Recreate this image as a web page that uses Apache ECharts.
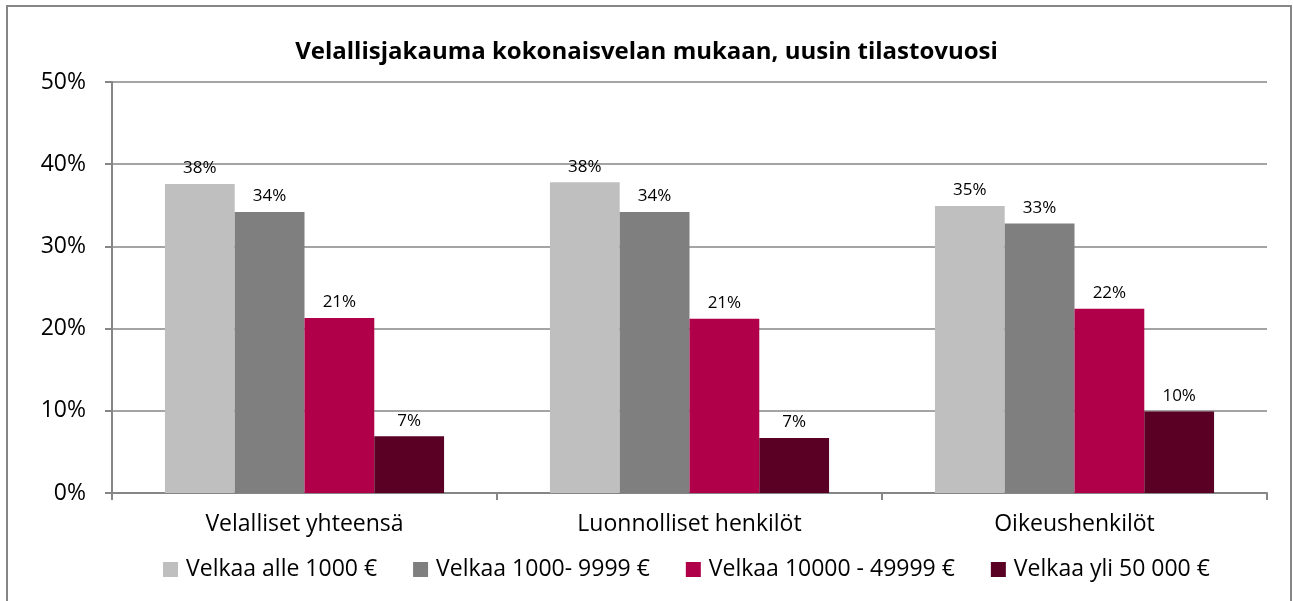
<!DOCTYPE html>
<html>
<head>
<meta charset="utf-8">
<script src="https://cdn.jsdelivr.net/npm/echarts@6/dist/echarts.min.js"></script>
<style>
  html, body { margin: 0; padding: 0; background: #fff; }
  #chart { width: 1293px; height: 601px; }
</style>
</head>
<body>
<div id="chart"></div>
<script>
var categories = ['Velalliset yhteensä', 'Luonnolliset henkilöt', 'Oikeushenkilöt'];
var seriesNames = ['Velkaa alle 1000 €', 'Velkaa 1000- 9999 €', 'Velkaa 10000 - 49999 €', 'Velkaa yli 50 000 €'];
var alle1000 = [37.6, 37.8, 34.9];
var v1000_9999 = [34.2, 34.2, 32.8];
var v10000_49999 = [21.3, 21.2, 22.4];
var yli50000 = [6.9, 6.7, 9.9];
var colors = ['#bfbfbf', '#7f7f7f', '#b0004a', '#5a0025'];

var font = 'Open Sans';
var chart = echarts.init(document.getElementById('chart'));

function makeSeries(name, data) {
  return {
    name: name,
    type: 'bar',
    data: data,
    barGap: '0%',
    barCategoryGap: '27.5%',
    label: {
      show: true,
      position: 'top',
      distance: 7,
      fontFamily: font,
      fontSize: 17,
      color: '#000',
      formatter: function (p) { return Math.round(p.value) + '%'; }
    }
  };
}

var option = {
  color: colors,
  animation: false,
  title: {
    text: 'Velallisjakauma kokonaisvelan mukaan, uusin tilastovuosi',
    left: 'center',
    top: 35,
    textStyle: { fontFamily: font, fontSize: 24, fontWeight: 'bold', color: '#000' }
  },
  legend: {
    top: 553,
    left: 158,
    itemWidth: 15,
    itemHeight: 15,
    itemGap: 36,
    icon: 'rect',
    textStyle: { fontFamily: font, fontSize: 23, color: '#000', padding: [0, 0, 0, 3] },
    data: seriesNames
  },
  grid: { left: 112, right: 26, top: 82, bottom: 108 },
  xAxis: {
    type: 'category',
    data: categories,
    axisLine: { lineStyle: { color: '#868686', width: 2 } },
    axisTick: { show: true, length: 7, lineStyle: { color: '#868686', width: 2 } },
    axisLabel: { fontFamily: font, fontSize: 23, color: '#000', margin: 20 }
  },
  yAxis: {
    type: 'value',
    min: 0,
    max: 50,
    interval: 10,
    axisLine: { show: true, lineStyle: { color: '#868686', width: 2 } },
    axisTick: { show: true, length: 7, lineStyle: { color: '#868686', width: 2 } },
    splitLine: { lineStyle: { color: '#868686', width: 1.5 } },
    axisLabel: { fontFamily: font, fontSize: 23, color: '#000', margin: 26, formatter: '{value}%' }
  },
  graphic: [{
    type: 'rect',
    shape: { x: 7, y: 6, width: 1284, height: 610 },
    style: { fill: null, stroke: '#868686', lineWidth: 2 },
    silent: true
  }],
  series: [
    makeSeries(seriesNames[0], alle1000),
    makeSeries(seriesNames[1], v1000_9999),
    makeSeries(seriesNames[2], v10000_49999),
    makeSeries(seriesNames[3], yli50000)
  ]
};
chart.setOption(option);
</script>
</body>
</html>
